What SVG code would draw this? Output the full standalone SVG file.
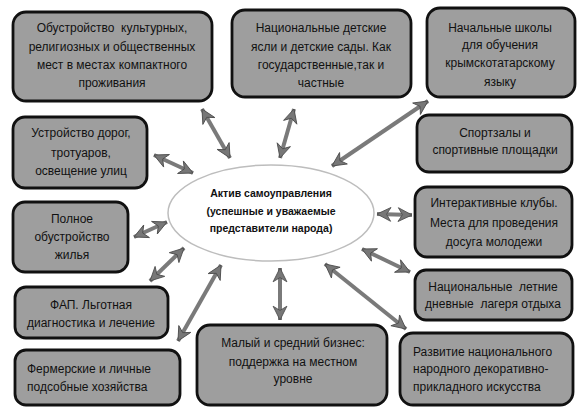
<svg xmlns="http://www.w3.org/2000/svg" width="583" height="412" viewBox="0 0 583 412">
<defs>
<style>
.box{fill:#9e9e9e;stroke:#111111;stroke-width:2.8}
.t{font-family:"Liberation Sans",Arial,sans-serif;font-size:12px;fill:#111111;text-anchor:middle;white-space:pre}
.tl{text-anchor:start}
.et{font-family:"Liberation Sans",Arial,sans-serif;font-size:10.5px;font-weight:bold;fill:#111111;text-anchor:middle}
.arr{stroke:#7a7a7a;stroke-width:4;fill:none;marker-start:url(#ah);marker-end:url(#ah)}
</style>
<marker id="ah" markerUnits="userSpaceOnUse" markerWidth="17" markerHeight="17" viewBox="0 0 16 16" refX="14" refY="8" orient="auto-start-reverse">
<path d="M1,1.5 L14,8 L1,14.5 L5,8 Z" fill="#777777" stroke="#4d4d4d" stroke-width="0.8" stroke-linejoin="round"/>
</marker>
</defs>
<rect width="583" height="412" fill="#ffffff"/>

<g id="connectors">
<line class="arr" x1="202" y1="109" x2="230" y2="158"/>
<line class="arr" x1="294" y1="109" x2="280" y2="158"/>
<line class="arr" x1="428" y1="101" x2="332" y2="166"/>
<line class="arr" x1="154" y1="155" x2="193" y2="173"/>
<line class="arr" x1="134" y1="237" x2="167" y2="222"/>
<line class="arr" x1="150" y1="281" x2="184" y2="248"/>
<line class="arr" x1="221" y1="265" x2="178" y2="341"/>
<line class="arr" x1="280" y1="268" x2="280" y2="320"/>
<line class="arr" x1="325" y1="264" x2="406" y2="329"/>
<line class="arr" x1="362" y1="249" x2="410" y2="272"/>
<line class="arr" x1="377" y1="214" x2="412" y2="215"/>
</g>

<g id="center">
<ellipse cx="271" cy="213" rx="103" ry="48" fill="#ffffff" stroke="#bdbdbd" stroke-width="1.5"/>
<text class="et" x="271" y="197">Актив самоуправления</text>
<text class="et" x="271" y="215">(успешные и уважаемые</text>
<text class="et" x="271" y="232">представители народа)</text>
</g>

<g id="n1">
<rect class="box" x="13" y="12" width="199" height="89" rx="13"/>
<text class="t" x="112" y="32" xml:space="preserve">Обустройство  культурных,</text>
<text class="t" x="112" y="51">религиозных и общественных</text>
<text class="t" x="112" y="69">мест в местах компактного</text>
<text class="t" x="112" y="87">проживания</text>
</g>

<g id="n2">
<rect class="box" x="232" y="10" width="179" height="87" rx="13"/>
<text class="t" x="321" y="32">Национальные детские</text>
<text class="t" x="321" y="51">ясли и детские сады. Как</text>
<text class="t" x="321" y="69">государственные,так и</text>
<text class="t" x="321" y="87">частные</text>
</g>

<g id="n3">
<rect class="box" x="427" y="8" width="148" height="89" rx="13"/>
<text class="t" x="500" y="32">Начальные школы</text>
<text class="t" x="500" y="49">для обучения</text>
<text class="t" x="500" y="67">крымскотатарскому</text>
<text class="t" x="500" y="86">языку</text>
</g>

<g id="n4">
<rect class="box" x="13" y="117" width="134" height="71" rx="12"/>
<text class="t" x="81" y="137">Устройство дорог,</text>
<text class="t" x="81" y="157">тротуаров,</text>
<text class="t" x="81" y="175">освещение улиц</text>
</g>

<g id="n5">
<rect class="box" x="13" y="202" width="115" height="70" rx="12"/>
<text class="t" x="72" y="223">Полное</text>
<text class="t" x="72" y="241">обустройство</text>
<text class="t" x="72" y="259">жилья</text>
</g>

<g id="n6">
<rect class="box" x="15" y="287" width="153" height="51" rx="11"/>
<text class="t" x="91" y="309">ФАП. Льготная</text>
<text class="t" x="91" y="327">диагностика и лечение</text>
</g>

<g id="n7">
<rect class="box" x="15" y="350" width="165" height="55" rx="11"/>
<text class="t tl" x="27" y="373">Фермерские и личные</text>
<text class="t tl" x="27" y="391">подсобные хозяйства</text>
</g>

<g id="n8">
<rect class="box" x="197" y="325" width="190" height="80" rx="13"/>
<text class="t" x="293" y="347">Малый и средний бизнес:</text>
<text class="t" x="293" y="366">поддержка на местном</text>
<text class="t" x="293" y="383">уровне</text>
</g>

<g id="n9">
<rect class="box" x="400" y="333" width="173" height="72" rx="13"/>
<text class="t tl" x="413" y="356">Развитие национального</text>
<text class="t tl" x="413" y="373">народного декоративно-</text>
<text class="t tl" x="413" y="391">прикладного искусства</text>
</g>

<g id="n10">
<rect class="box" x="415" y="270" width="157" height="50" rx="11"/>
<text class="t" x="493" y="291" xml:space="preserve">Национальные  летние</text>
<text class="t" x="493" y="308" xml:space="preserve">дневные  лагеря отдыха</text>
</g>

<g id="n11">
<rect class="box" x="415" y="187" width="157" height="70" rx="12"/>
<text class="t" x="494" y="207">Интерактивные клубы.</text>
<text class="t" x="494" y="227">Места для проведения</text>
<text class="t" x="494" y="246">досуга молодежи</text>
</g>

<g id="n12">
<rect class="box" x="417" y="115" width="155" height="57" rx="12"/>
<text class="t" x="495" y="137">Спортзалы и</text>
<text class="t" x="495" y="154">спортивные площадки</text>
</g>
</svg>
